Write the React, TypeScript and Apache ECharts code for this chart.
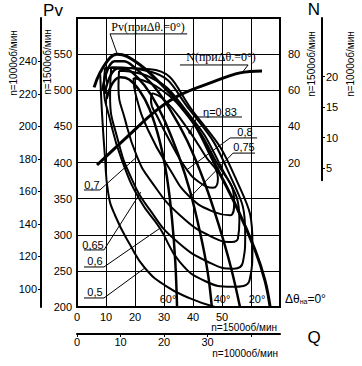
import React, { useEffect, useRef } from 'react';
import * as echarts from 'echarts';

// Axis ticks
const qTickLabels = [0, 10, 20, 30, 40, 50];
const pvTickLabels = [200, 250, 300, 350, 400, 450, 500, 550];
const nTickLabels = [20, 40, 60, 80];
const pv1000Ticks = [100, 120, 140, 160, 180, 200, 220, 240];
const n1000Ticks = [5, 10, 15, 20];
const q1000Labels = [0, 10, 20, 30];
const q1000Marks = [0, 10, 20, 30, 40];

// Pressure curves Pv(Q) for guide-vane angles Δθ (n=1500)
const dTheta0: [number, number][] = [[5.9, 504], [7.9, 524], [11.4, 545], [13.8, 550], [17.2, 547], [23.1, 531], [28.6, 510], [34.5, 485], [40.7, 452], [46.9, 403], [55.2, 337], [61.4, 279], [64.8, 237], [66.6, 200]];
const dTheta20: [number, number][] = [[8.8, 500], [10.5, 528], [13, 540], [16, 540], [20, 531], [26, 508], [32, 474], [38, 430], [44, 372], [49, 312], [53, 256], [56.2, 200]];
const dTheta40: [number, number][] = [[9.5, 495], [11.5, 520], [14, 530], [17, 529], [21, 517], [25.5, 494], [30, 460], [35, 410], [39, 360], [42.5, 302], [45, 250], [46.5, 200]];
const dTheta60: [number, number][] = [[10.2, 488], [12.3, 510], [15, 518], [18, 515], [21.5, 500], [25, 474], [28.5, 430], [31, 380], [32.8, 320], [33.9, 262], [34.5, 200]];

// Efficiency contours η
const eta80: [number, number][] = [[25.9, 496], [30.3, 486], [37.2, 452], [44.1, 410], [48.6, 378], [46.9, 365], [42.4, 372], [37.9, 390], [32.8, 424], [27.9, 462], [25.5, 486], [25.9, 496]];
const eta75: [number, number][] = [[19.5, 517], [28.6, 502], [39, 460], [47.6, 404], [54.2, 345], [52.8, 327], [47.6, 331], [39, 352], [32.1, 390], [24.5, 445], [20.3, 493], [19.5, 517]];
const eta70: [number, number][] = [[14.5, 527], [25.2, 518], [37.2, 474], [49.3, 397], [56, 320], [55.5, 295], [53.4, 290], [47.6, 295], [35.5, 327], [25.2, 376], [20.7, 408], [16.6, 459], [14.3, 505], [14.5, 527]];
const eta65: [number, number][] = [[11.8, 532], [25.2, 526], [39, 472], [52.1, 388], [58, 300], [57.2, 262], [54.1, 253], [45.9, 261], [33.8, 293], [25.2, 334], [19, 376], [14.1, 431], [11.4, 493], [11.8, 532]];
const eta60: [number, number][] = [[9.7, 531], [25.2, 529], [40.7, 467], [54.5, 380], [60.5, 286], [59.5, 237], [53.4, 228], [44.1, 236], [35.5, 262], [28.6, 309], [21.7, 348], [15.5, 403], [11.4, 459], [9.3, 507], [9.7, 531]];
const eta50: [number, number][] = [[8, 522], [8.6, 470], [9.6, 410], [10.8, 357], [13.1, 327], [18.3, 286], [23.4, 254], [30.3, 230], [39, 212], [47.6, 200]];
const eta83: [number, number][] = [[39, 442]];

// Power curve N(Q), n=1500
const powerN: [number, number][] = [[6.9, 18.6], [17.2, 34.1], [27.6, 49.1], [35.5, 57.4], [46.9, 64.6], [56.2, 69.6], [63.8, 70.7]];

// Leader lines (Q, Pv)
const leader50: [number, number][] = [[2.4, 212.5], [9.3, 212.5], [23.4, 254]];
const leader60: [number, number][] = [[2.4, 255.4], [9.3, 255.4], [28.6, 309]];
const leader65: [number, number][] = [[2.4, 279], [9.3, 279], [22, 359]];
const leader70: [number, number][] = [[2.4, 362], [7.9, 362], [20.7, 408]];
const leader75: [number, number][] = [[61.4, 413], [53.8, 413], [39, 352]];
const leader80: [number, number][] = [[62.1, 434], [52.8, 434], [37.9, 390]];
const leader83: [number, number][] = [[56.9, 463], [41.4, 463], [39, 442]];
const leaderPv: [number, number][] = [[38, 578], [11.4, 578], [13.8, 551]];
const leaderN: [number, number][] = [[35.5, 535], [59, 535], [56.9, 524]];

const K = '#000';
const sans = '"Liberation Sans", Arial, sans-serif';
const serif = '"Liberation Serif", "Times New Roman", serif';

const line = (data: [number, number][], width: number, smooth: number | boolean = 0.4, yAxisIndex = 0) => ({
  type: 'line', data, xAxisIndex: 0, yAxisIndex, smooth, showSymbol: false, symbol: 'none',
  lineStyle: { color: K, width }, silent: true, z: 3,
});

const txt = (text: string, x: number, y: number, size = 11, align = 'center', font = sans, rotation = 0) => ({
  type: 'text', x, y, rotation, silent: true, z: 10,
  style: { text, fill: K, fontSize: size, fontFamily: font, align, verticalAlign: 'middle' },
});

const App = () => {
  const ref = useRef<HTMLDivElement>(null);
  useEffect(() => {
    const chart = echarts.init(ref.current!, null, { renderer: 'svg' });
    const option: any = {
      animation: false,
      backgroundColor: '#fff',
      grid: [
        { left: 77, top: 18, width: 203, height: 289, show: true, borderColor: K, borderWidth: 2, backgroundColor: 'transparent' },
        { left: 77, top: 18, width: 203, height: 162.3 },
      ],
      xAxis: [
        {
          type: 'value', gridIndex: 0, min: 0, max: 70, interval: 10,
          axisLine: { show: true, onZero: false, lineStyle: { color: K, width: 2 } },
          axisTick: { show: false },
          axisLabel: { color: K, fontSize: 11, fontFamily: sans, margin: 4, formatter: (v: number) => (qTickLabels.includes(v) ? String(v) : '') },
          splitLine: { show: true, lineStyle: { color: K, width: 1 } },
        },
        {
          type: 'value', gridIndex: 0, position: 'bottom', offset: 27, min: 0, max: 70 * 2 / 3,
          axisLine: { show: true, onZero: false, lineStyle: { color: K, width: 2 } },
          axisTick: { show: true, length: 3, customValues: q1000Marks, lineStyle: { color: K } },
          axisLabel: { color: K, fontSize: 11, fontFamily: sans, margin: 2, customValues: q1000Labels },
          splitLine: { show: false },
        },
        { type: 'value', gridIndex: 1, min: 0, max: 70, show: false, axisLine: { onZero: false } },
      ],
      yAxis: [
        {
          type: 'value', gridIndex: 0, min: 200, max: 600, interval: 50,
          axisLine: { show: true, onZero: false, lineStyle: { color: K, width: 2 } },
          axisTick: { show: false },
          axisLabel: { color: K, fontSize: 11, fontFamily: sans, margin: 5, formatter: (v: number) => (pvTickLabels.includes(v) ? String(v) : '') },
          splitLine: { show: true, lineStyle: { color: K, width: 1 } },
        },
        {
          type: 'value', gridIndex: 0, position: 'right', min: -60, max: 100, interval: 20,
          axisLine: { show: false, onZero: false }, axisTick: { show: false },
          axisLabel: { color: K, fontSize: 11, fontFamily: sans, margin: 8, formatter: (v: number) => (nTickLabels.includes(v) ? String(v) : '') },
          splitLine: { show: false },
        },
        {
          type: 'value', gridIndex: 0, position: 'left', offset: 36, min: 200 * 4 / 9, max: 600 * 4 / 9,
          axisLine: { show: true, onZero: false, lineStyle: { color: K, width: 2 } },
          axisTick: { show: true, length: 3, customValues: pv1000Ticks, lineStyle: { color: K } },
          axisLabel: { color: K, fontSize: 11, fontFamily: sans, margin: 4, customValues: pv1000Ticks },
          splitLine: { show: false },
        },
        {
          type: 'value', gridIndex: 1, position: 'right', offset: 42, min: 3, max: 100 * 8 / 27,
          axisLine: { show: true, onZero: false, lineStyle: { color: K, width: 2 } },
          axisTick: { show: true, length: 3, customValues: n1000Ticks, lineStyle: { color: K } },
          axisLabel: { color: K, fontSize: 11, fontFamily: sans, margin: 4, customValues: n1000Ticks },
          splitLine: { show: false },
        },
      ],
      series: [
        line(dTheta0, 3),
        line(dTheta20, 2.5),
        line(dTheta40, 2.5),
        line(dTheta60, 2.5),
        line(eta80, 2, 0.5),
        line(eta75, 2, 0.5),
        line(eta70, 2, 0.5),
        line(eta65, 2, 0.5),
        line(eta60, 2, 0.5),
        line(eta50, 2, 0.5),
        line(powerN, 3, 0.4, 1),
        { type: 'scatter', data: eta83, xAxisIndex: 0, yAxisIndex: 0, symbolSize: 4, itemStyle: { color: K }, silent: true, z: 4 },
        line(leader50, 1, false),
        line(leader60, 1, false),
        line(leader65, 1, false),
        line(leader70, 1, false),
        line(leader75, 1, false),
        line(leader80, 1, false),
        line(leader83, 1, false),
        line(leaderPv, 1, false),
        line(leaderN, 1, false),
      ],
      graphic: [
        txt('Pv', 53, 10, 17),
        txt('N', 314, 9, 17),
        txt('Q', 314, 337, 17),
        txt('n=1000об/мин', 13, 63, 10, 'center', sans, Math.PI / 2),
        txt('n=1500об/мин', 47, 62, 10, 'center', sans, Math.PI / 2),
        txt('n=1500об/мин', 311, 64, 10, 'center', sans, Math.PI / 2),
        txt('n=1000об/мин', 350, 64, 10, 'center', sans, Math.PI / 2),
        txt('n=1500об/мин', 277, 327, 10, 'right'),
        txt('n=1000об/мин', 278, 353, 10, 'right'),
        txt('Pv(приΔθ.=0°)', 148, 27, 12, 'center', serif),
        txt('N(приΔθ.=0°)', 221, 57, 12, 'center', serif),
        txt('η=0.83', 220, 112, 11),
        txt('0,8', 245, 132, 11),
        txt('0,75', 244, 147, 11),
        txt('0,7', 92, 185, 11),
        txt('0,65', 93, 245, 11),
        txt('0,6', 95, 261, 11),
        txt('0,5', 95, 292, 11),
        txt('60°', 168, 299, 11),
        txt('40°', 222, 299, 11),
        txt('20°', 257, 299, 11),
        {
          type: 'text', x: 285, y: 299, silent: true, z: 10,
          style: {
            text: '{a|Δθ}{s|на}{a|=0°}', fill: K, verticalAlign: 'middle', align: 'left',
            rich: {
              a: { fontSize: 12, fontFamily: sans, fill: K },
              s: { fontSize: 7, fontFamily: sans, fill: K, padding: [5, 0, 0, 0] },
            },
          },
        },
      ],
    };
    chart.setOption(option);
    return () => chart.dispose();
  }, []);
  return <div ref={ref} style={{ position: 'absolute', left: 0, top: 0, width: 362, height: 366 }} />;
};

export default App;
